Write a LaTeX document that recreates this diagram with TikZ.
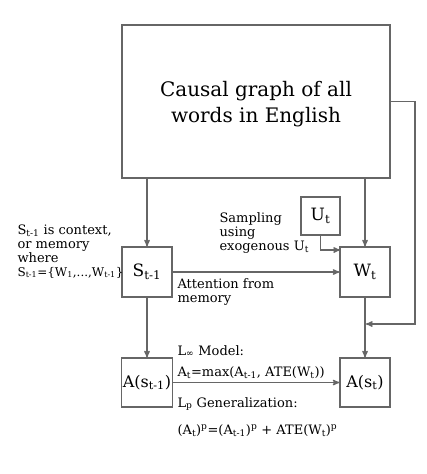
\documentclass[tikz,border=0pt]{standalone}
\usepackage{fontspec}
\setmainfont{DejaVu Serif}
\usetikzlibrary{arrows,positioning}

\begin{document}
\begin{tikzpicture}[x=1pt,y=-1pt,>=stealth',line width=1.1pt,draw=black!60]
  \tikzset{box/.style={draw=black!60,inner sep=1pt,minimum width=50pt,minimum height=50pt,font=\fontsize{17}{20}\selectfont},
           note/.style={inner sep=0pt,anchor=base west,font=\fontsize{13}{14}\selectfont},
           link/.style={->,draw=black!60,line width=1.3pt}}
  \useasboundingbox (0,0) rectangle (427,474);
  % boxes
  \node[box,minimum width=268pt,minimum height=153pt] (graph) at (256,101.5) {};
  \node[inner sep=0pt,align=center,font=\fontsize{20}{26}\selectfont] (graphtext) at (256,104) {Causal graph of all\\words in English};
  \node[box] (S)   at (147,272)   {S\textsubscript{t-1}};
  \node[box] (W)   at (365,272)   {W\textsubscript{t}};
  \node[box,minimum width=39pt,minimum height=38pt] (U) at (320.5,216) {U\textsubscript{t}};
  \node[box,minimum height=49pt,font=\fontsize{16}{20}\selectfont] (As1) at (147,382.5) {A(s\textsubscript{t-1})};
  \node[box,minimum height=49pt,font=\fontsize{16}{20}\selectfont] (As)  at (365,382.5) {A(s\textsubscript{t})};
  % turning points
  \coordinate (sin)    at (147,178);
  \coordinate (win)    at (365,178);
  \coordinate (uin)    at (340,250);
  \coordinate (fbturn) at (415,324);
  \coordinate (fbend)  at (366,324);
  % connectors
  \draw[link] (sin) -- (S);
  \draw[link] (win) -- (W);
  \draw[link] (S) -- (W);
  \draw[link] (W) -- (As);
  \draw[link] (S) -- (As1);
  \draw[link] (As1) -- (As);
  \draw[link] (U) |- (uin);
  \draw[link] (graph.east) -| (fbturn) -- (fbend);
  % texts
  \node[note] (ctx1) at (17,234) {S\textsubscript{t-1} is context,};
  \node[note] (ctx2) at (17,248) {or memory};
  \node[note] (ctx3) at (17,262) {where};
  \node[note,font=\fontsize{12}{14}\selectfont] (ctx4) at (17,276) {S\textsubscript{t-1}=\{W\textsubscript{1},...,W\textsubscript{t-1}\}};
  \node[note] (samp1) at (219,222) {Sampling};
  \node[note] (samp2) at (219,236) {using};
  \node[note] (samp3) at (219,250) {exogenous U\textsubscript{t}};
  \node[note] (att1) at (177,288) {Attention from};
  \node[note] (att2) at (177,302) {memory};
  \node[note] (linf1) at (177,355) {L\textsubscript{∞} Model:};
  \node[note] (linf2) at (177,376) {A\textsubscript{t}=max(A\textsubscript{t-1}, ATE(W\textsubscript{t}))};
  \node[note] (lp1)   at (177,407) {L\textsubscript{p} Generalization:};
  \node[note] (lp2)   at (177,434) {(A\textsubscript{t})\textsuperscript{p}=(A\textsubscript{t-1})\textsuperscript{p} + ATE(W\textsubscript{t})\textsuperscript{p}};
\end{tikzpicture}
\end{document}
